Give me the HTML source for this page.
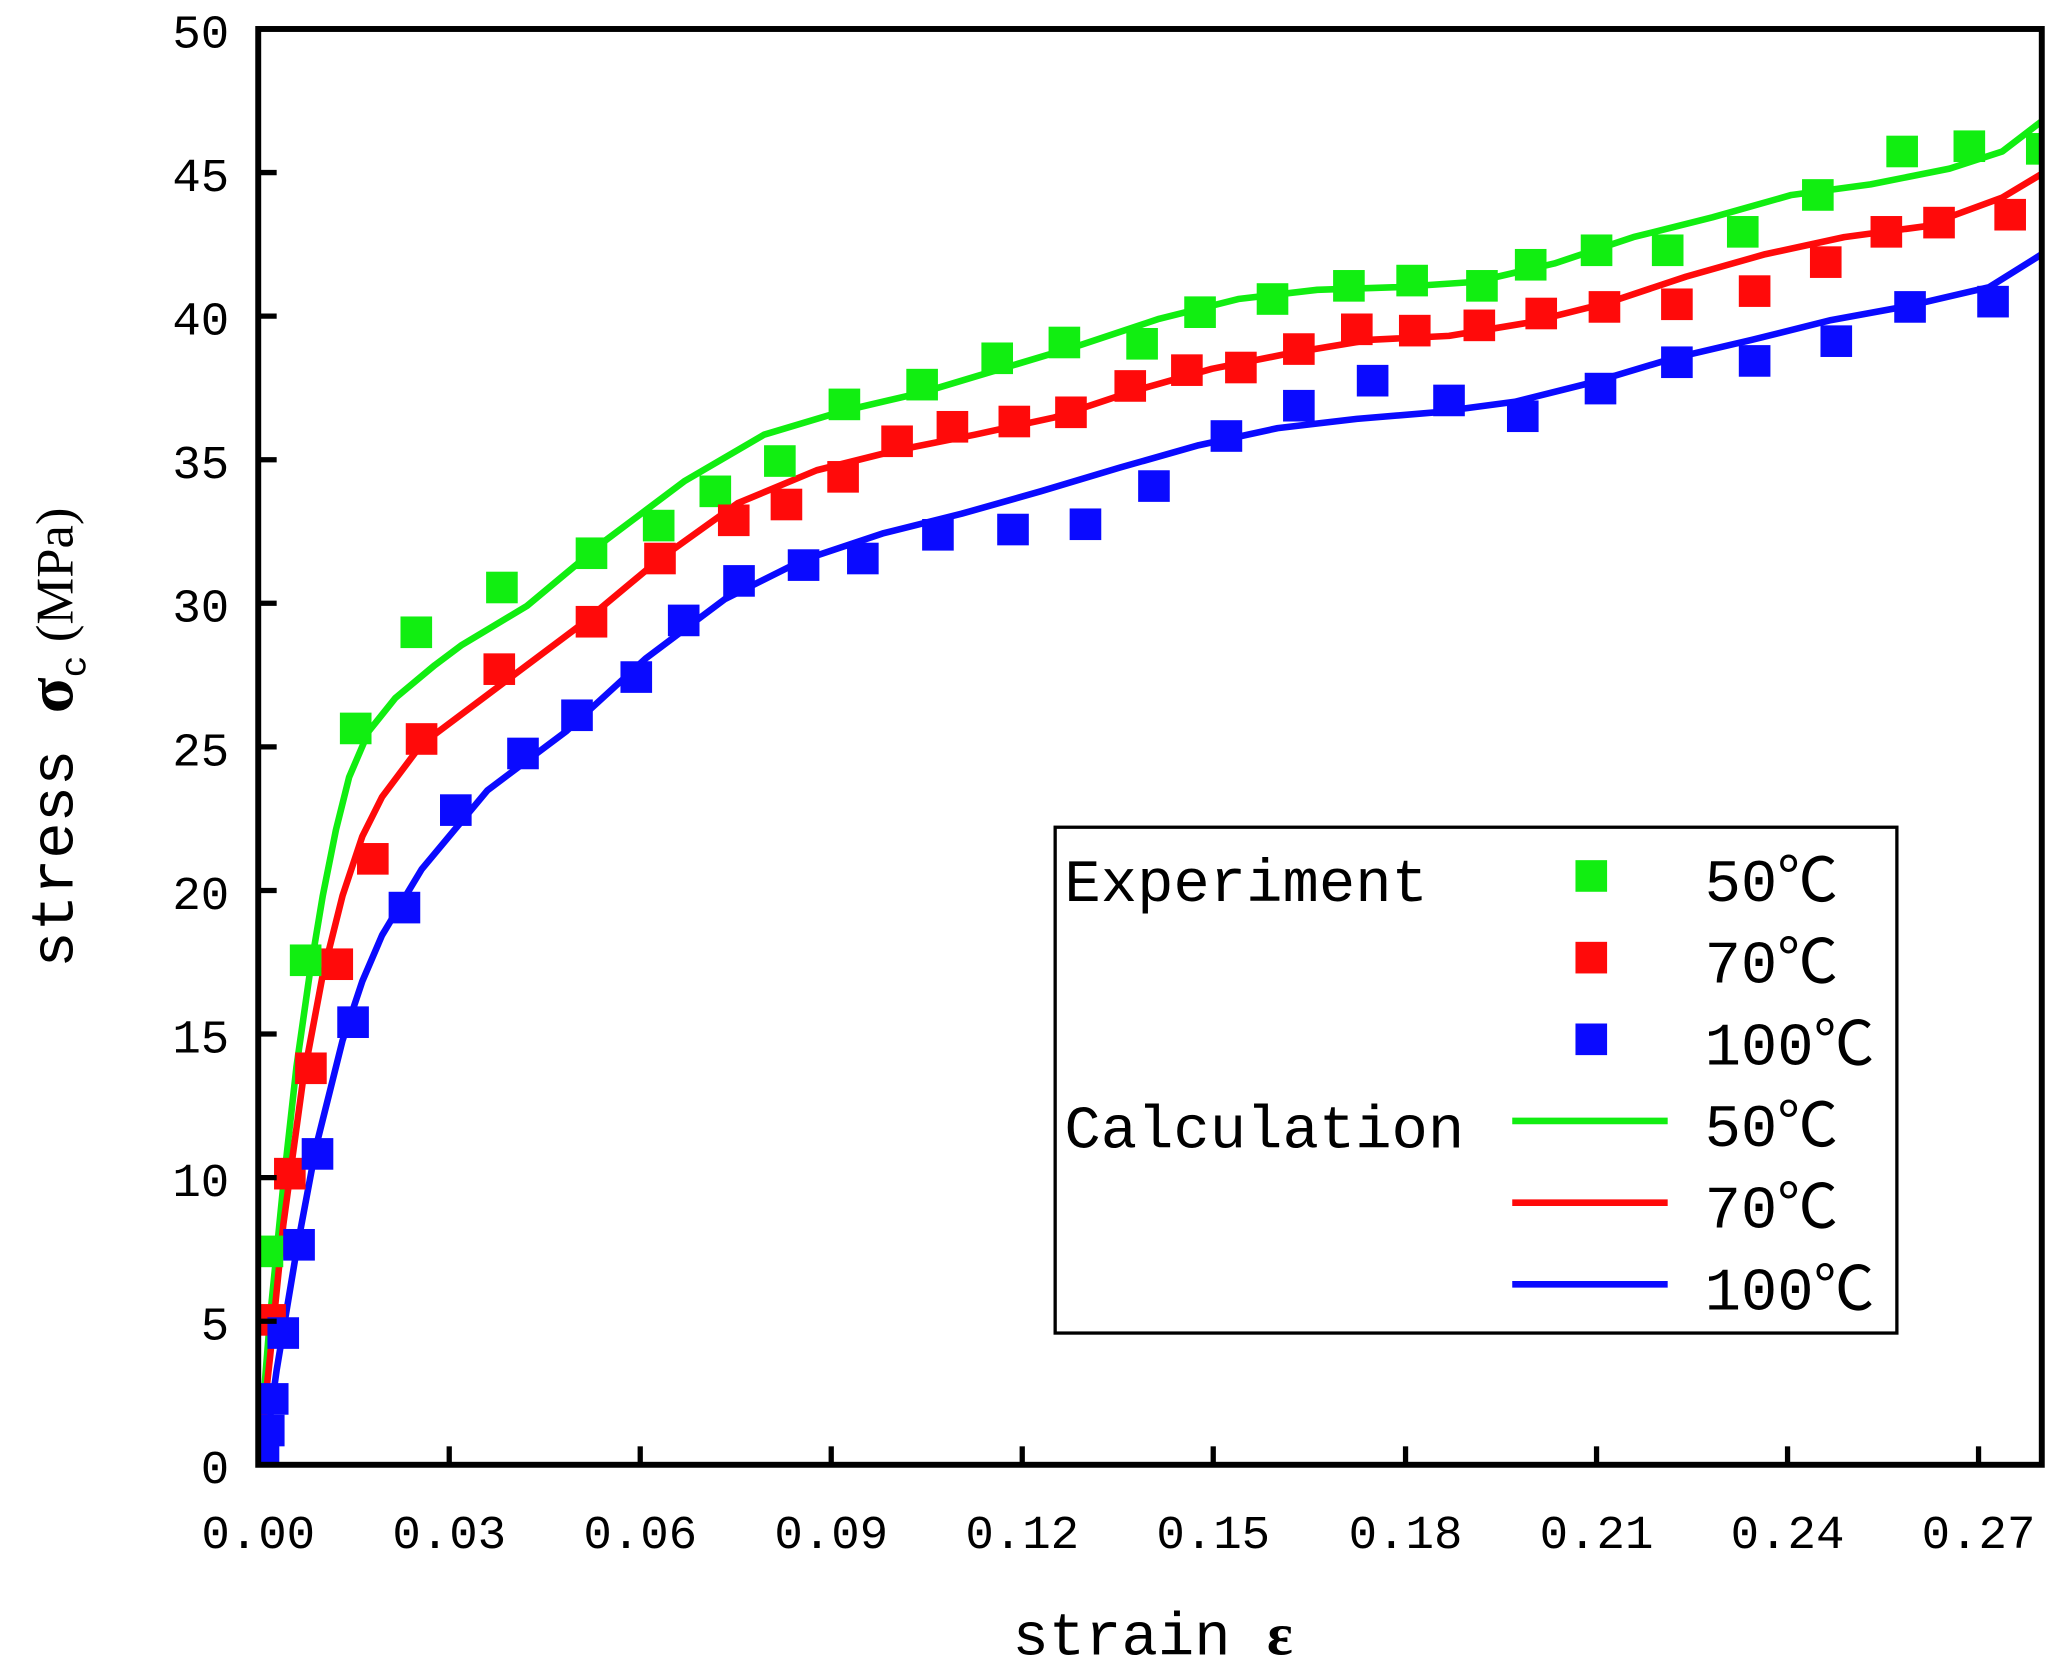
<!DOCTYPE html>
<html><head><meta charset="utf-8"><style>
html,body{margin:0;padding:0;background:#fff;}
svg{display:block;}
text{font-family:"Liberation Mono","Noto Sans CJK SC",monospace;fill:#000;}
</style></head><body>
<svg width="2055" height="1665" viewBox="0 0 1560 1264" xmlns="http://www.w3.org/2000/svg">
<defs><clipPath id="c"><rect x="196" y="22" width="1354" height="1090"/></clipPath></defs>
<rect width="1560" height="1264" fill="#fff"/>
<g clip-path="url(#c)">
<g fill="none" stroke-width="5" stroke-linejoin="round" stroke-linecap="round">
<polyline stroke="#11ee11" points="196,1112 205,1000 215,900 225,810 235,740 245,680 255,630 265,590 280,555 300,530 330,505 350,490 400,460 460,410 520,365 580,330 640,312 700,298 760,280 820,262 880,242 940,227 1000,220 1060,218 1120,214 1180,200 1240,180 1300,165 1360,148 1420,140 1480,128 1520,115 1550,92"/>
<polyline stroke="#ff0a0a" points="196,1112 205,1030 215,930 230,820 245,740 260,680 275,635 290,605 320,565 380,520 440,475 500,425 560,382 620,357 680,342 740,330 800,317 860,297 920,280 980,268 1040,258 1100,255 1160,245 1220,230 1280,210 1340,193 1400,180 1460,172 1520,150 1550,132"/>
<polyline stroke="#0a0aff" points="200,1112 210,1040 225,950 240,870 260,790 275,745 290,710 320,660 370,600 430,555 490,500 550,455 610,425 670,405 730,390 790,373 850,355 910,338 970,325 1030,318 1090,313 1150,305 1210,290 1270,272 1330,258 1390,243 1450,232 1510,218 1550,193"/>
</g>
<g fill="#11ee11">
<rect x="191" y="938" width="24" height="24"/><rect x="220" y="717" width="24" height="24"/><rect x="258" y="541" width="24" height="24"/><rect x="304" y="468" width="24" height="24"/><rect x="369" y="434" width="24" height="24"/><rect x="437" y="408" width="24" height="24"/><rect x="488" y="387" width="24" height="24"/><rect x="531" y="361" width="24" height="24"/><rect x="580" y="338" width="24" height="24"/><rect x="629" y="295" width="24" height="24"/><rect x="688" y="280" width="24" height="24"/><rect x="745" y="260" width="24" height="24"/><rect x="796" y="248" width="24" height="24"/><rect x="855" y="249" width="24" height="24"/><rect x="899" y="225" width="24" height="24"/><rect x="954" y="215" width="24" height="24"/><rect x="1012" y="205" width="24" height="24"/><rect x="1060" y="201" width="24" height="24"/><rect x="1113" y="205" width="24" height="24"/><rect x="1150" y="189" width="24" height="24"/><rect x="1200" y="178" width="24" height="24"/><rect x="1254" y="178" width="24" height="24"/><rect x="1311" y="164" width="24" height="24"/><rect x="1368" y="136" width="24" height="24"/><rect x="1432" y="103" width="24" height="24"/><rect x="1483" y="99" width="24" height="24"/><rect x="1538" y="101" width="24" height="24"/>
</g>
<g fill="#ff0a0a">
<rect x="193" y="990" width="24" height="24"/><rect x="208" y="879" width="24" height="24"/><rect x="224" y="799" width="24" height="24"/><rect x="244" y="720" width="24" height="24"/><rect x="271" y="640" width="24" height="24"/><rect x="308" y="549" width="24" height="24"/><rect x="367" y="496" width="24" height="24"/><rect x="437" y="460" width="24" height="24"/><rect x="489" y="412" width="24" height="24"/><rect x="545" y="383" width="24" height="24"/><rect x="585" y="371" width="24" height="24"/><rect x="628" y="350" width="24" height="24"/><rect x="669" y="323" width="24" height="24"/><rect x="711" y="312" width="24" height="24"/><rect x="758" y="308" width="24" height="24"/><rect x="801" y="301" width="24" height="24"/><rect x="846" y="281" width="24" height="24"/><rect x="889" y="269" width="24" height="24"/><rect x="930" y="267" width="24" height="24"/><rect x="974" y="253" width="24" height="24"/><rect x="1018" y="238" width="24" height="24"/><rect x="1062" y="239" width="24" height="24"/><rect x="1111" y="235" width="24" height="24"/><rect x="1158" y="226" width="24" height="24"/><rect x="1206" y="221" width="24" height="24"/><rect x="1261" y="219" width="24" height="24"/><rect x="1320" y="209" width="24" height="24"/><rect x="1374" y="187" width="24" height="24"/><rect x="1420" y="164" width="24" height="24"/><rect x="1460" y="157" width="24" height="24"/><rect x="1514" y="151" width="24" height="24"/>
</g>
<g fill="#0a0aff">
<rect x="188" y="1093" width="24" height="24"/><rect x="192" y="1074" width="24" height="24"/><rect x="195" y="1050" width="24" height="24"/><rect x="203" y="1000" width="24" height="24"/><rect x="215" y="933" width="24" height="24"/><rect x="229" y="864" width="24" height="24"/><rect x="256" y="764" width="24" height="24"/><rect x="295" y="677" width="24" height="24"/><rect x="334" y="603" width="24" height="24"/><rect x="385" y="560" width="24" height="24"/><rect x="426" y="531" width="24" height="24"/><rect x="471" y="502" width="24" height="24"/><rect x="507" y="459" width="24" height="24"/><rect x="549" y="429" width="24" height="24"/><rect x="598" y="417" width="24" height="24"/><rect x="643" y="412" width="24" height="24"/><rect x="700" y="394" width="24" height="24"/><rect x="757" y="390" width="24" height="24"/><rect x="812" y="386" width="24" height="24"/><rect x="864" y="357" width="24" height="24"/><rect x="919" y="319" width="24" height="24"/><rect x="974" y="296" width="24" height="24"/><rect x="1030" y="277" width="24" height="24"/><rect x="1088" y="292" width="24" height="24"/><rect x="1144" y="304" width="24" height="24"/><rect x="1203" y="283" width="24" height="24"/><rect x="1261" y="263" width="24" height="24"/><rect x="1320" y="262" width="24" height="24"/><rect x="1382" y="247" width="24" height="24"/><rect x="1438" y="221" width="24" height="24"/><rect x="1501" y="217" width="24" height="24"/>
</g>
</g>
<rect x="196" y="22" width="1354" height="1090" fill="none" stroke="#000" stroke-width="4.5"/>
<g stroke="#000" stroke-width="4">
<line x1="196" y1="1003" x2="210" y2="1003"/><line x1="196" y1="894" x2="210" y2="894"/><line x1="196" y1="785" x2="210" y2="785"/><line x1="196" y1="676" x2="210" y2="676"/><line x1="196" y1="567" x2="210" y2="567"/><line x1="196" y1="458" x2="210" y2="458"/><line x1="196" y1="349" x2="210" y2="349"/><line x1="196" y1="240" x2="210" y2="240"/><line x1="196" y1="131" x2="210" y2="131"/>
<line x1="341" y1="1112" x2="341" y2="1098"/><line x1="486" y1="1112" x2="486" y2="1098"/><line x1="631" y1="1112" x2="631" y2="1098"/><line x1="776" y1="1112" x2="776" y2="1098"/><line x1="921" y1="1112" x2="921" y2="1098"/><line x1="1067" y1="1112" x2="1067" y2="1098"/><line x1="1212" y1="1112" x2="1212" y2="1098"/><line x1="1357" y1="1112" x2="1357" y2="1098"/><line x1="1502" y1="1112" x2="1502" y2="1098"/>
</g>
<g font-size="36" text-anchor="end">
<text x="174" y="1126">0</text><text x="174" y="1017">5</text><text x="174" y="908">10</text><text x="174" y="799">15</text><text x="174" y="690">20</text><text x="174" y="581">25</text><text x="174" y="472">30</text><text x="174" y="363">35</text><text x="174" y="254">40</text><text x="174" y="145">45</text><text x="174" y="36">50</text>
</g>
<g font-size="36" text-anchor="middle">
<text x="196" y="1175">0.00</text><text x="341" y="1175">0.03</text><text x="486" y="1175">0.06</text><text x="631" y="1175">0.09</text><text x="776" y="1175">0.12</text><text x="921" y="1175">0.15</text><text x="1067" y="1175">0.18</text><text x="1212" y="1175">0.21</text><text x="1357" y="1175">0.24</text><text x="1502" y="1175">0.27</text>
</g>
<text x="875" y="1256" font-size="46" text-anchor="middle">strain <tspan font-family="Liberation Serif,serif" font-weight="bold">ε</tspan></text>
<text transform="translate(55,560) rotate(-90)" font-size="46" text-anchor="middle">stress <tspan font-family="Liberation Serif,serif" font-weight="bold" font-size="50">σ</tspan><tspan font-size="28" dy="10">c</tspan><tspan font-family="Liberation Serif,serif" font-size="40" dy="-10"> (MPa)</tspan></text>
<rect x="801" y="628" width="639" height="384" fill="#fff" stroke="#000" stroke-width="2.5"/>
<g font-size="46">
<text x="808" y="684">Experiment</text>
<text x="808" y="871">Calculation</text>
<text x="1294" y="684">50℃</text><text x="1294" y="746">70℃</text><text x="1294" y="808">100℃</text>
<text x="1294" y="870">50℃</text><text x="1294" y="932">70℃</text><text x="1294" y="994">100℃</text>
</g>
<rect x="1196" y="653" width="24" height="24" fill="#11ee11"/>
<rect x="1196" y="715" width="24" height="24" fill="#ff0a0a"/>
<rect x="1196" y="777" width="24" height="24" fill="#0a0aff"/>
<g stroke-width="5">
<line x1="1148" y1="851" x2="1266" y2="851" stroke="#11ee11"/>
<line x1="1148" y1="913" x2="1266" y2="913" stroke="#ff0a0a"/>
<line x1="1148" y1="975" x2="1266" y2="975" stroke="#0a0aff"/>
</g>
</svg>
</body></html>
